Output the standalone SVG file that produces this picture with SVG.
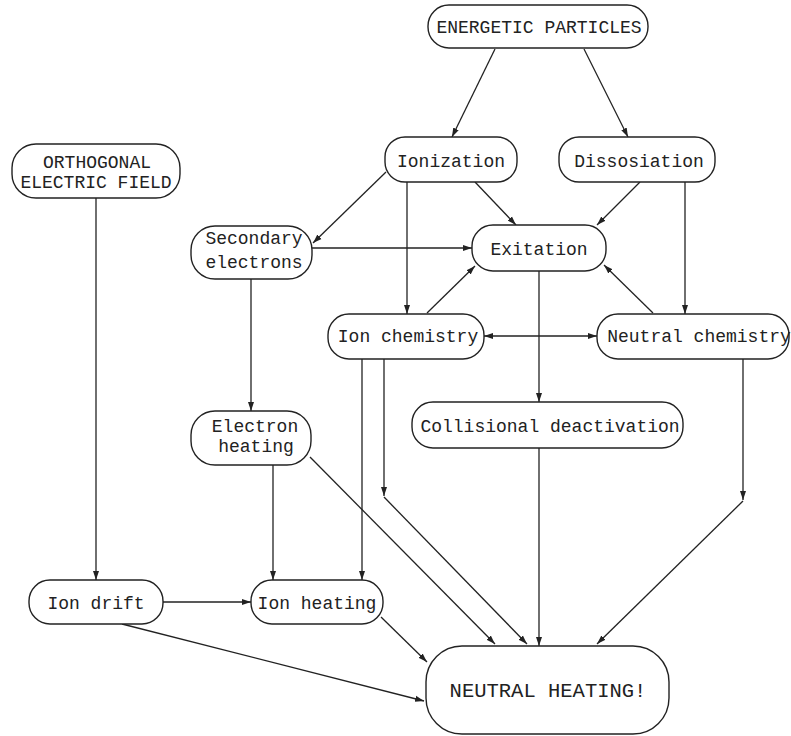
<svg xmlns="http://www.w3.org/2000/svg" width="791" height="736" viewBox="0 0 791 736">
<style>
.box{fill:#fff;stroke:#222;stroke-width:1.4}
.t{font-family:"Liberation Mono","Courier New",monospace;font-size:18px;fill:#222;text-anchor:middle}
.big{font-size:20.5px}
.c{fill:none;stroke:#222;stroke-width:1.3}
.a{marker-end:url(#ah)}
.b{marker-start:url(#ahs);marker-end:url(#ah)}
</style>
<defs>
<marker id="ah" markerUnits="userSpaceOnUse" markerWidth="10" markerHeight="8" refX="9" refY="4" orient="auto">
<path d="M0,1 L9,4 L0,7 Z" fill="#222"/>
</marker>
<marker id="ahs" markerUnits="userSpaceOnUse" markerWidth="10" markerHeight="8" refX="1" refY="4" orient="auto">
<path d="M10,1 L1,4 L10,7 Z" fill="#222"/>
</marker>
</defs>
<rect width="791" height="736" fill="#fff"/>
<g id="connectors">
<path class="c a" d="M495,49 L452,137"/>
<path class="c a" d="M584,49 L628,137"/>
<path class="c a" d="M386,172 L313,243"/>
<path class="c a" d="M407,182 L407,314"/>
<path class="c a" d="M475,182 L516,225"/>
<path class="c a" d="M640,182 L597,225"/>
<path class="c a" d="M685,182 L685,314"/>
<path class="c a" d="M312,248 L472,248"/>
<path class="c a" d="M251,279 L251,411"/>
<path class="c a" d="M427,313 L475,266"/>
<path class="c a" d="M653,313 L604,265"/>
<path class="c b" d="M484,336 L597,336"/>
<path class="c a" d="M539,271 L539,402"/>
<path class="c a" d="M539,448 L539,646"/>
<path class="c a" d="M743,359 L743,500"/>
<path class="c a" d="M743,501 L597,644"/>
<path class="c a" d="M384,359 L384,496"/>
<path class="c a" d="M384,497 L527,644"/>
<path class="c a" d="M362,359 L362,580"/>
<path class="c a" d="M310,457 L495,644"/>
<path class="c a" d="M273,465 L273,580"/>
<path class="c a" d="M96,197 L96,580"/>
<path class="c a" d="M163,602 L251,602"/>
<path class="c a" d="M122,624 L424,701"/>
<path class="c a" d="M381,617 L427,662"/>
</g>
<g id="energetic">
<rect class="box" x="428" y="5" width="220" height="43" rx="21"/>
<text class="t" x="539" y="33">ENERGETIC PARTICLES</text>
</g>
<g id="orthogonal">
<rect class="box" x="12" y="144" width="168" height="54" rx="24"/>
<text class="t" x="97" y="168">ORTHOGONAL</text>
<text class="t" x="96" y="188">ELECTRIC FIELD</text>
</g>
<g id="ionization">
<rect class="box" x="385" y="137" width="132" height="45" rx="20"/>
<text class="t" x="451" y="167">Ionization</text>
</g>
<g id="dissosiation">
<rect class="box" x="559" y="137" width="156" height="45" rx="20"/>
<text class="t" x="639" y="167">Dissosiation</text>
</g>
<g id="secondary">
<rect class="box" x="191" y="226" width="121" height="53" rx="24"/>
<text class="t" x="254" y="244">Secondary</text>
<text class="t" x="254" y="268">electrons</text>
</g>
<g id="exitation">
<rect class="box" x="472" y="225" width="134" height="46" rx="21"/>
<text class="t" x="539" y="255">Exitation</text>
</g>
<g id="ionchem">
<rect class="box" x="328" y="314" width="156" height="45" rx="21"/>
<text class="t" x="408" y="342">Ion chemistry</text>
</g>
<g id="neutralchem">
<rect class="box" x="597" y="314" width="192" height="45" rx="21"/>
<text class="t" x="699" y="342">Neutral chemistry</text>
</g>
<g id="electronheating">
<rect class="box" x="191" y="411" width="120" height="54" rx="24"/>
<text class="t" x="255" y="432">Electron</text>
<text class="t" x="256" y="452">heating</text>
</g>
<g id="collisional">
<rect class="box" x="412" y="402" width="271" height="46" rx="21"/>
<text class="t" x="550" y="432">Collisional deactivation</text>
</g>
<g id="iondrift">
<rect class="box" x="29" y="580" width="134" height="44" rx="21"/>
<text class="t" x="96" y="609">Ion drift</text>
</g>
<g id="ionheating">
<rect class="box" x="251" y="580" width="132" height="44" rx="21"/>
<text class="t" x="317" y="609">Ion heating</text>
</g>
<g id="neutralheating">
<rect class="box" x="426" y="646" width="243" height="88" rx="36"/>
<text class="t big" x="548" y="697">NEUTRAL HEATING!</text>
</g>
</svg>
